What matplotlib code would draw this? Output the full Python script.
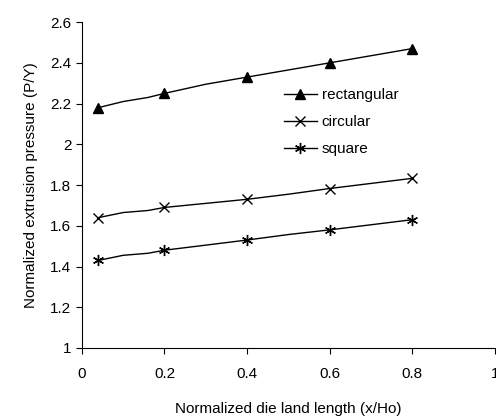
import matplotlib
matplotlib.use("Agg")
import matplotlib.pyplot as plt
from matplotlib.ticker import FormatStrFormatter

plt.rcParams['font.family'] = ['Liberation Sans', 'DejaVu Sans']

# die land length, with a few unmarked points in between
x = [0.04, 0.1, 0.16, 0.2, 0.3, 0.4, 0.5, 0.6, 0.7, 0.8]
marked = [0, 3, 5, 7, 9]
rectangular = [2.18, 2.21, 2.23, 2.25, 2.295, 2.33, 2.365, 2.40, 2.435, 2.47]
circular = [1.64, 1.665, 1.675, 1.69, 1.71, 1.73, 1.755, 1.783, 1.808, 1.833]
square = [1.43, 1.455, 1.465, 1.48, 1.505, 1.53, 1.557, 1.58, 1.605, 1.63]

fig = plt.figure(figsize=(4.96, 4.17), dpi=100)
ax = fig.add_axes([0.165, 0.1655, 0.833, 0.7815])

ax.plot(x, rectangular, color='black', lw=1.0, marker='^', ms=7,
        markevery=marked, label='rectangular')
ax.plot(x, circular, color='black', lw=1.0, marker='x', ms=7, mew=1.0,
        markevery=marked, label='circular')
ax.plot(x, square, color='black', lw=1.0, marker=(6, 2, 0), ms=8, mew=1.0,
        markevery=marked, label='square')

ax.set_xlim(0, 1)
ax.set_ylim(1, 2.6)
ax.set_xticks([0, 0.2, 0.4, 0.6, 0.8, 1])
ax.set_yticks([1, 1.2, 1.4, 1.6, 1.8, 2, 2.2, 2.4, 2.6])
ax.xaxis.set_major_formatter(FormatStrFormatter('%g'))
ax.yaxis.set_major_formatter(FormatStrFormatter('%g'))
ax.tick_params(direction='out', length=4, width=0.8, labelsize=11)
ax.tick_params(axis='x', pad=10)
for s in ['top', 'right']:
    ax.spines[s].set_visible(False)
for s in ['left', 'bottom']:
    ax.spines[s].set_linewidth(0.8)

ax.set_xlabel('Normalized die land length (x/Ho)', fontsize=11, labelpad=15)
ax.set_ylabel('Normalized extrusion pressure (P/Y)', fontsize=11, labelpad=9)

ax.legend(loc='upper left', bbox_to_anchor=(0.455, 0.84), frameon=False,
          fontsize=11, handlelength=2.2, handletextpad=0.3, labelspacing=0.85)

fig.savefig('out.png', dpi=100)
